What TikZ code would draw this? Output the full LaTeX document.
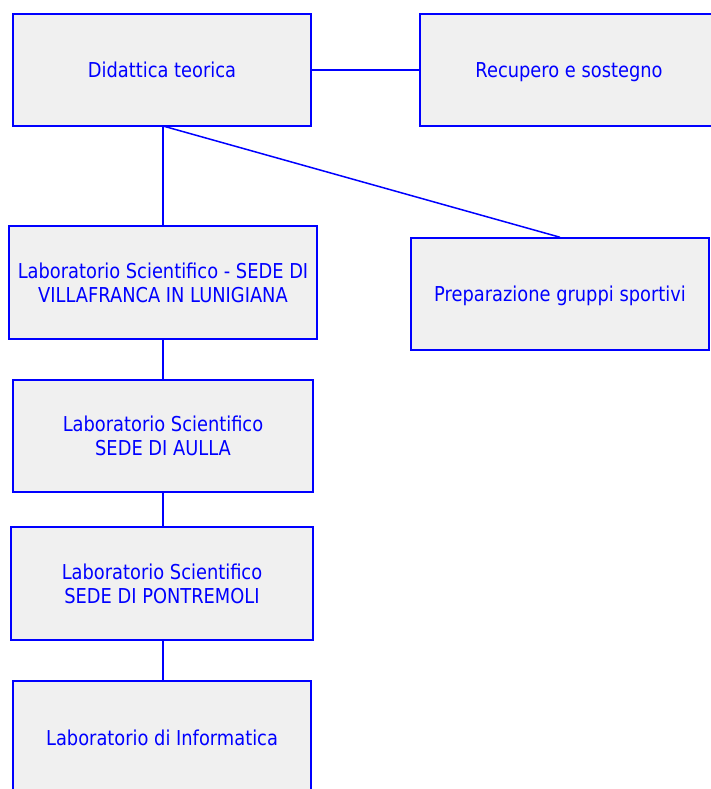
\documentclass[tikz,border=0pt]{standalone}
\usepackage{fontspec}
\setmainfont[FakeStretch=0.87]{DejaVu Sans}
\definecolor{bxblue}{RGB}{0,0,255}
\definecolor{bxfill}{RGB}{240,240,240}
\begin{document}
\begin{tikzpicture}[x=1pt,y=-1pt,
  box/.style={draw=bxblue,fill=bxfill,line width=1.5pt,text=bxblue,
    font=\fontsize{20.5}{24}\selectfont,align=center,inner sep=0pt,text depth=0pt},
  link/.style={draw=bxblue,line width=1.5pt}]
\useasboundingbox (0,0) rectangle (710,789);
\node[box,minimum width=298pt,minimum height=112pt] (d) at (162,70) {Didattica teorica};
\node[box,minimum width=298pt,minimum height=112pt] (r) at (569,70) {Recupero e sostegno};
\node[box,minimum width=308pt,minimum height=113pt] (l1) at (163,282.5) {Laboratorio Scientifico - SEDE DI\\VILLAFRANCA IN LUNIGIANA};
\node[box,minimum width=298pt,minimum height=112pt] (p) at (560,294) {Preparazione gruppi sportivi};
\node[box,minimum width=300pt,minimum height=112pt] (l2) at (163,436) {Laboratorio Scientifico\\SEDE DI AULLA};
\node[box,minimum width=302pt,minimum height=113pt] (l3) at (162,583.5) {Laboratorio Scientifico\\SEDE DI PONTREMOLI};
\node[box,minimum width=298pt,minimum height=113pt] (l4) at (162,737.5) {Laboratorio di Informatica};
\coordinate (ds) at (163,126);
\draw[link] (d.east) -- (r.west);
\draw[link] (ds) -- (ds |- l1.north);
\draw[link] (ds) -- (p.north);
\draw[link] (ds |- l1.south) -- (ds |- l2.north);
\draw[link] (ds |- l2.south) -- (ds |- l3.north);
\draw[link] (ds |- l3.south) -- (ds |- l4.north);
\end{tikzpicture}
\end{document}
